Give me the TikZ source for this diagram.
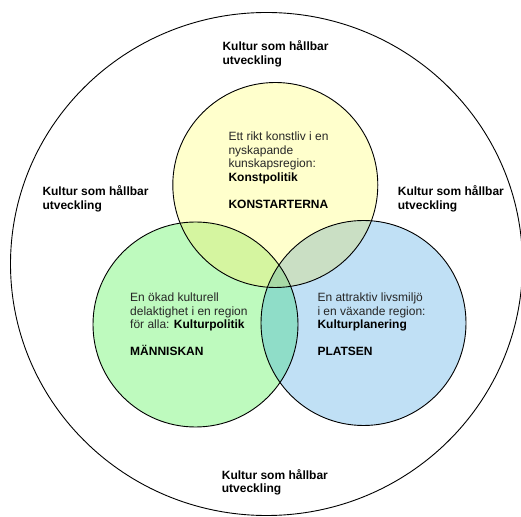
\documentclass[tikz,border=0pt]{standalone}
\usepackage{fontspec}
\setmainfont{Liberation Sans}
\definecolor{cyellow}{HTML}{FFFFCC}
\definecolor{cgreen}{HTML}{BEFABE}
\definecolor{cblue}{HTML}{C0E0F5}
\definecolor{cyg}{HTML}{D5F5A0}
\definecolor{cyb}{HTML}{CADFC4}
\definecolor{cgb}{HTML}{8FDDC8}
\definecolor{cygb}{HTML}{A8D9A6}
\tikzset{
  outline/.style={draw=black, line width=0.9pt},
  lbl/.style={anchor=base west, inner sep=0pt, align=left, font=\fontsize{12}{13.5}\selectfont\bfseries},
  txt/.style={anchor=base west, inner sep=0pt, align=left, font=\fontsize{12}{13.5}\selectfont, text=black!85},
}
\begin{document}
\begin{tikzpicture}[x=1pt,y=1pt]
\useasboundingbox (0,0) rectangle (521,516);
\def\ycirc{(275.3,331) circle[radius=102.5]}
\def\gcirc{(195.5,191.5) circle[radius=102.5]}
\def\bcirc{(363.5,193) circle[radius=102.5]}
% outer ellipse
\draw[outline] (266.5,252) ellipse[x radius=256, y radius=251.5];
% base fills
\fill[cyellow] \ycirc;
\fill[cgreen] \gcirc;
\fill[cblue] \bcirc;
% pairwise overlaps
\begin{scope}\clip \ycirc; \fill[cyg] \gcirc; \end{scope}
\begin{scope}\clip \ycirc; \fill[cyb] \bcirc; \end{scope}
\begin{scope}\clip \gcirc; \fill[cgb] \bcirc; \end{scope}
\begin{scope}\clip \ycirc; \clip \gcirc; \fill[cygb] \bcirc; \end{scope}
% outlines
\draw[outline] \ycirc;
\draw[outline] \gcirc;
\draw[outline] \bcirc;
% labels (anchored at the baseline of their last line)
\node[lbl] (ltop) at (222.3,451.5) {Kultur som hållbar\\utveckling};
\node[lbl] (lleft) at (42.3,306.5) {Kultur som hållbar\\utveckling};
\node[lbl] (lright) at (397.7,306.5) {Kultur som hållbar\\utveckling};
\node[lbl] (lbottom) at (221.7,23.2) {Kultur som hållbar\\utveckling};
\node[txt] (tyellow) at (228.3,307.8) {Ett rikt konstliv i en\\nyskapande\\kunskapsregion:\\\textbf{\color{black}Konstpolitik}\\[13.5pt]\textbf{\color{black}KONSTARTERNA}};
\node[txt] (tgreen) at (130,160.3) {En ökad kulturell\\delaktighet i en region\\för alla: \textbf{\color{black}Kulturpolitik}\\[13.5pt]\textbf{\color{black}MÄNNISKAN}};
\node[txt] (tblue) at (317.3,160.3) {En attraktiv livsmiljö\\i en växande region:\\\textbf{\color{black}Kulturplanering}\\[13.5pt]\textbf{\color{black}PLATSEN}};
\end{tikzpicture}
\end{document}
